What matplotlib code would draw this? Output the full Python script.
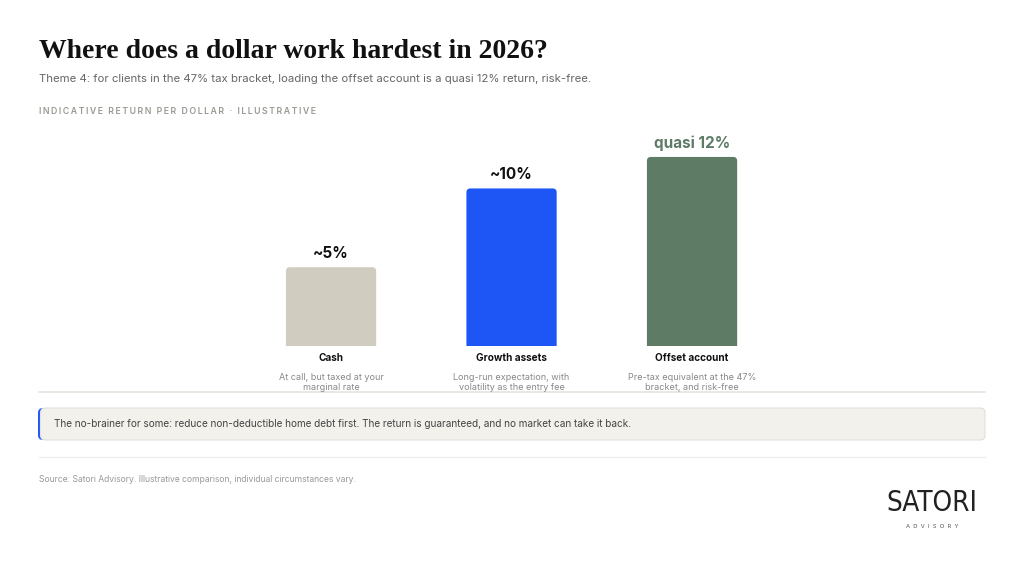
import matplotlib
matplotlib.use("Agg")
import matplotlib.pyplot as plt
from matplotlib.patches import FancyBboxPatch

# data
categories = ["Cash", "Growth assets", "Offset account"]
returns = [5, 10, 12]
value_labels = ["~5%", "~10%", "quasi 12%"]
descriptions = ["At call, but taxed at your\nmarginal rate",
                "Long-run expectation, with\nvolatility as the entry fee",
                "Pre-tax equivalent at the 47%\nbracket, and risk-free"]
bar_colors = ["#D0CCC0", "#1E56F5", "#5E7B65"]
label_colors = ["#111111", "#111111", "#5E7B65"]

W, H = 1024, 565
SANS = ["Inter", "DejaVu Sans"]
plt.rcParams["font.family"] = SANS

fig = plt.figure(figsize=(W / 100, H / 100), dpi=100)
fig.patch.set_facecolor("white")

# background layer in pixel coordinates for text and decorations
bg = fig.add_axes([0, 0, 1, 1], zorder=0)
bg.set_xlim(0, W)
bg.set_ylim(H, 0)
bg.axis("off")

bg.text(39, 51, "Where does a dollar work hardest in 2026?", fontsize=20,
        fontweight="bold", family=["Liberation Serif", "DejaVu Serif"],
        color="#111111", va="center", ha="left")
bg.text(39, 79, "Theme 4: for clients in the 47% tax bracket, loading the offset account "
        "is a quasi 12% return, risk-free.", fontsize=8.2, color="#666666",
        va="center", ha="left")
kicker = "INDICATIVE RETURN PER DOLLAR \u00b7 ILLUSTRATIVE"
bg.text(39, 111, "\u2009".join(kicker), fontsize=6.3,
        color="#9A9A94", va="center", ha="left", fontweight="semibold")

# chart axes
left_px, right_px, top_px, base_px = 39, 985, 130, 346
ax = fig.add_axes([left_px / W, 1 - base_px / H, (right_px - left_px) / W,
                   (base_px - top_px) / H], zorder=1)
ax.patch.set_alpha(0)
x = list(range(len(categories)))
ax.set_xlim(-1.618, 3.623)
ax.set_ylim(0, 13.71)
ax.axis("off")

bars = ax.bar(x, returns, width=0.5, color=bar_colors)
fig.canvas.draw()
px_x = ax.transData.transform((1, 0))[0] - ax.transData.transform((0, 0))[0]
px_y = ax.transData.transform((0, 1))[1] - ax.transData.transform((0, 0))[1]
r = 4.0 / px_x
for b in bars:
    b.set_visible(False)
    ry = 4.0 / px_y
    p = FancyBboxPatch((b.get_x(), -ry), b.get_width(), b.get_height() + ry,
                       boxstyle=f"round,pad=0,rounding_size={r}",
                       mutation_aspect=px_x / px_y,
                       facecolor=b.get_facecolor(), edgecolor="none")
    ax.add_patch(p)

for xi, v, lab, c in zip(x, returns, value_labels, label_colors):
    ax.annotate(lab, (xi, v), xytext=(0, 4.5), textcoords="offset points",
                ha="center", va="bottom", fontsize=11, fontweight="bold", color=c)

for xi, cat, desc in zip(x, categories, descriptions):
    ax.annotate(cat, (xi, 0), xytext=(0, -8.5), textcoords="offset points",
                ha="center", va="center", fontsize=7.2, fontweight="bold",
                color="#111111", annotation_clip=False)
    ax.annotate(desc, (xi, 0), xytext=(0, -26), textcoords="offset points",
                ha="center", va="center", fontsize=6.5, color="#888888",
                linespacing=1.15, annotation_clip=False)

# separator lines
bg.plot([39, 985], [392, 392], color="#E6E4DE", lw=1.2)
bg.plot([39, 985], [457, 457], color="#F0EFEC", lw=1.0)

# callout box with blue left edge
bg.add_patch(FancyBboxPatch((38, 408), 947, 32, boxstyle="round,pad=0,rounding_size=5",
                            facecolor="#1E56F5", edgecolor="none"))
bg.add_patch(FancyBboxPatch((40.5, 408), 944.5, 32, boxstyle="round,pad=0,rounding_size=5",
                            facecolor="#F2F1EC", edgecolor="#E4E2DA", lw=0.8))
bg.text(54, 424, "The no-brainer for some: reduce non-deductible home debt first. "
        "The return is guaranteed, and no market can take it back.",
        fontsize=7.2, color="#444444", va="center", ha="left")

bg.text(39, 480, "Source: Satori Advisory. Illustrative comparison, individual circumstances vary.",
        fontsize=6.2, color="#999999", va="center", ha="left")

# logo
bg.text(932, 503, "SATORI", fontsize=20, color="#222222", va="center", ha="center",
        family=["DejaVu Sans"], fontweight="light", fontstretch="condensed")
bg.text(932, 526, "A  D  V  I  S  O  R  Y", fontsize=4.2, color="#555555",
        va="center", ha="center")

fig.savefig("out.png", dpi=100, facecolor="white")
